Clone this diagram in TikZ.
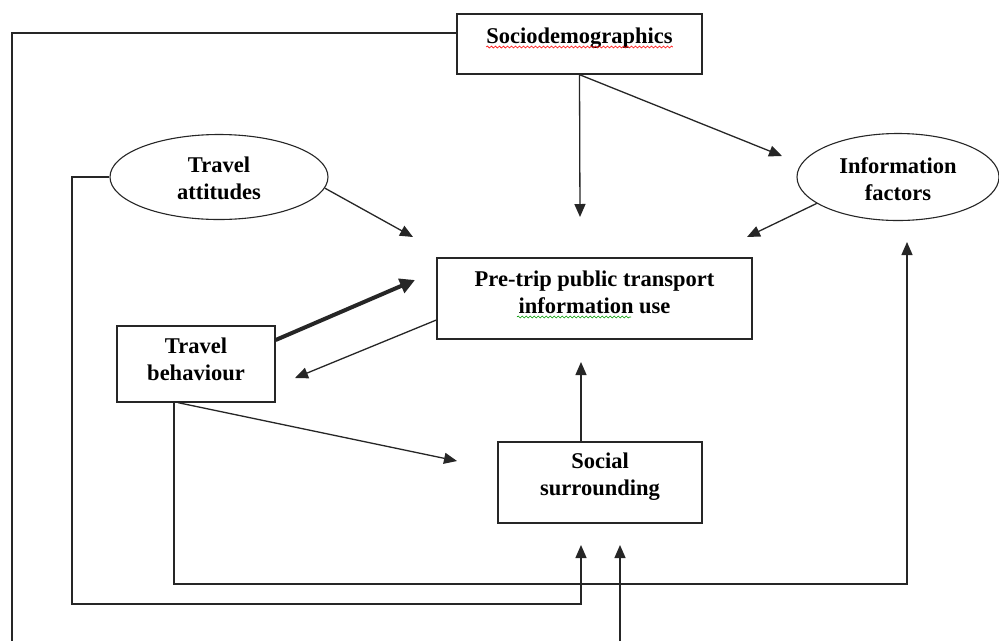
\documentclass[tikz,border=0pt]{standalone}
\usepackage{fontspec}
\setmainfont{Liberation Serif}
\usetikzlibrary{arrows.meta,shapes.geometric,decorations.pathmorphing}
\begin{document}
\begin{tikzpicture}[x=1pt,y=-1pt,
  lbl/.style={font=\fontsize{22.5}{27}\selectfont\bfseries, align=center, inner sep=0pt, anchor=north},
  boxnode/.style={draw=black!85, line width=1.3pt, rectangle, inner sep=0pt},
  ellnode/.style={draw=black!85, line width=1.1pt, ellipse, inner sep=0pt},
  conn/.style={draw=black!85, line width=1.3pt},
  arr/.style={conn, -{Triangle[length=13pt,width=11pt]}},
  thickarr/.style={conn, line width=4pt, -{Triangle[length=15pt,width=15pt]}},
  wavy/.style={line width=0.6pt, decorate, decoration={snake, amplitude=1pt, segment length=4pt}}]
\fill[white] (0,0) rectangle (999,641);
\useasboundingbox (0,0) rectangle (999,641);

% nodes
\node[boxnode, minimum width=245pt, minimum height=60pt] (socio) at (579.5,44) {};
\node[lbl, anchor=base] (sociot) at (579.5,43) {Sociodemographics};
\node[boxnode, minimum width=315pt, minimum height=81pt] (pti) at (594.5,298.5) {};
\node[lbl] (ptit) at (594.5,271) {Pre-trip public transport\\information use};
\node[ellnode, minimum width=218pt, minimum height=85pt] (att) at (219,177) {};
\node[lbl] (attt) at (219,157) {Travel\\attitudes};
\node[ellnode, minimum width=202pt, minimum height=87pt] (inf) at (898,177) {};
\node[lbl] (inft) at (898,157) {Information\\factors};
\node[boxnode, minimum width=158pt, minimum height=76pt] (beh) at (196,364) {};
\node[lbl] (beht) at (196,338) {Travel\\behaviour};
\node[boxnode, minimum width=204pt, minimum height=81pt] (soc) at (600,482.5) {};
\node[lbl] (soct) at (600,453) {Social\\surrounding};

% free ends and bends
\coordinate (sdA) at (580,217);
\coordinate (sdB) at (782,156);
\coordinate (lb) at (12,641);
\coordinate (attA) at (413,237);
\coordinate (attL) at (72,604);
\coordinate (infA) at (747,237);
\coordinate (behA) at (415,280);
\coordinate (ptiA) at (295,378);
\coordinate (behB) at (457,461);
\coordinate (behL) at (174,584);
\coordinate (infB) at (907,242);
\coordinate (socA) at (581,362);
\coordinate (socB) at (581,545);
\coordinate (socC) at (620,545);
\coordinate (bot) at (620,641);

% connectors
\draw[arr] (socio.south) -- (sdA);
\draw[arr] (socio.south) -- (sdB);
\draw[conn] ([yshift=11pt]socio.west) -| (lb);
\draw[arr] (att.180) -| (attL) -| (socB);
\draw[arr] (att.-6) -- (attA);
\draw[arr] (inf.198) -- (infA);
\draw[thickarr] ([yshift=24pt]beh.east) -- (behA);
\draw[arr] ([yshift=-21.5pt]pti.west) -- (ptiA);
\draw[arr] ([xshift=-18pt]beh.south) -- (behB);
\draw[arr] ([xshift=-22pt]beh.south) -- (behL) -| (infB);
\draw[arr] ([xshift=-19pt]soc.north) -- (socA);
\draw[arr] (bot) -- (socC);

% spell-check underlines
\draw[wavy, red] ([yshift=-4pt]sociot.base west) -- ([yshift=-4pt]sociot.base east);
\draw[wavy, green!60!black] (517,317) -- (631,317);
\end{tikzpicture}
\end{document}
